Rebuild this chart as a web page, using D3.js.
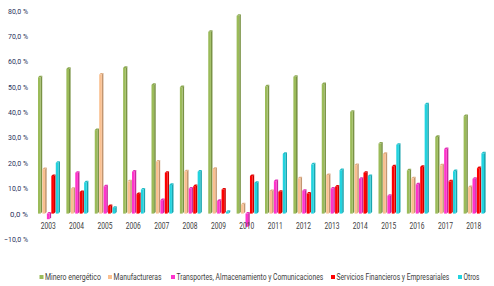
<!DOCTYPE html>
<html lang="es">
<head>
<meta charset="UTF-8">
<title>Crecimiento por sector</title>
<script src="https://d3js.org/d3.v7.min.js"></script>
<style>
    body { margin: 0; background: #fff; }
    svg text { font-family: "Liberation Sans Narrow", "Roboto", sans-serif; }
    .ylab { font-size: 8px; fill: #1f2f5a; }
    .xlab { font-size: 9px; fill: #404040; }
    .leg { font-size: 9px; fill: #404040; }
</style>
</head>
<body>
<div id="chart"></div>
<script>
    var years = ["2003","2004","2005","2006","2007","2008","2009","2010","2011","2012","2013","2014","2015","2016","2017","2018"];
    var seriesNames = ["Minero energético", "Manufactureras", "Transportes, Almacenamiento y Comunicaciones", "Servicios Financieros y Empresariales", "Otros"];
    var seriesColors = ["#9bbb59", "#fac090", "#ff33cc", "#ff0000", "#22d3df"];

    var minero = [53.7, 57.0, 32.9, 57.4, 50.7, 49.8, 71.6, 77.9, 50.1, 53.9, 51.0, 40.1, 27.6, 17.0, 30.2, 38.4];
    var manufactureras = [17.5, 9.8, 54.8, 12.7, 20.5, 16.6, 17.6, 3.6, 8.9, 13.9, 15.2, 19.1, 23.5, 13.9, 19.0, 10.4];
    var transportes = [-2.2, 16.1, 10.7, 16.5, 5.3, 9.9, 5.0, -5.2, 12.8, 9.0, 9.9, 13.7, 7.0, 11.5, 25.4, 13.7];
    var servicios = [14.8, 8.5, 3.0, 7.7, 16.1, 10.8, 9.5, 14.8, 8.6, 7.9, 10.6, 16.1, 18.6, 18.4, 12.7, 17.9];
    var otros = [20.0, 12.3, 2.3, 9.5, 11.3, 16.5, 0.7, 12.1, 23.5, 19.4, 17.1, 14.8, 27.1, 43.0, 16.7, 23.7];

    var yTicks = [-10, 0, 10, 20, 30, 40, 50, 60, 70, 80];

    var allSeries = [minero, manufactureras, transportes, servicios, otros];

    var width = 494, height = 286;

    var svg = d3.select("#chart").append("svg")
        .attr("width", width)
        .attr("height", height);

    var x = d3.scaleBand().domain(years).range([34, 488]);
    var xs = d3.scaleBand().domain(d3.range(seriesNames.length)).range([4, 26]).paddingInner(0.05);
    var y = d3.scaleLinear().domain([-10, 80]).range([239, 10.5]);

    // squeeze a text horizontally so it looks like the narrow office font
    function narrow(sel, targetW, anchorX, baseY, anchor) {
        sel.each(function(d, i) {
            var t = d3.select(this);
            var w = this.getComputedTextLength();
            var tw = typeof targetW === "function" ? targetW(d, i) : targetW;
            var k = Math.min(1, tw / w);
            var ax = typeof anchorX === "function" ? anchorX(d, i) : anchorX;
            var by = typeof baseY === "function" ? baseY(d, i) : baseY;
            t.attr("x", 0).attr("y", 0)
             .attr("text-anchor", anchor)
             .attr("transform", "translate(" + ax + "," + by + ") scale(" + k + ",1)");
        });
    }

    // y labels
    svg.append("g").selectAll("text")
        .data(yTicks)
        .join("text")
        .attr("class", "ylab")
        .text(function(d) { return (d < 0 ? "\u2212" : "") + Math.abs(d).toFixed(1).replace(".", ",") + " %"; })
        .call(narrow, function(d) { return d < 0 ? 24 : (d === 0 ? 18 : 20); }, 28, function(d) { return y(d) + 3; }, "end");

    // bars with a little 3D side and top
    var depth = 1.6;
    var bw = xs.bandwidth() - depth;
    allSeries.forEach(function(vals, si) {
        var g = svg.append("g");
        var col = d3.color(seriesColors[si]);
        var dark = col.darker(0.7);
        vals.forEach(function(v, i) {
            var x0 = x(years[i]) + xs(si);
            var yTop = Math.min(y(v), y(0));
            var yBot = Math.max(y(v), y(0));
            g.append("polygon")
                .attr("points", [[x0 + bw, yTop], [x0 + bw + depth, yTop - depth], [x0 + bw + depth, yBot - depth], [x0 + bw, yBot]].join(" "))
                .attr("fill", dark);
            g.append("polygon")
                .attr("points", [[x0, yTop], [x0 + depth, yTop - depth], [x0 + bw + depth, yTop - depth], [x0 + bw, yTop]].join(" "))
                .attr("fill", col.darker(0.3));
            g.append("rect")
                .attr("x", x0)
                .attr("y", yTop)
                .attr("width", bw)
                .attr("height", yBot - yTop)
                .attr("fill", col);
        });
    });

    // x labels
    svg.append("g").selectAll("text")
        .data(years)
        .join("text")
        .attr("class", "xlab")
        .text(function(d) { return d; })
        .call(narrow, 15, function(d) { return x(d) + x.bandwidth() / 2; }, 229, "middle");

    // legend
    var legX = [39.5, 108, 171, 331, 458];
    var legW = [56, 48, 147, 113, 16];
    var leg = svg.append("g");
    seriesNames.forEach(function(name, i) {
        leg.append("rect")
            .attr("x", legX[i])
            .attr("y", 275)
            .attr("width", 4)
            .attr("height", 4)
            .attr("fill", seriesColors[i]);
        leg.append("text")
            .attr("class", "leg")
            .text(name)
            .call(narrow, legW[i], legX[i] + 5.5, 280, "start");
    });
</script>
</body>
</html>
